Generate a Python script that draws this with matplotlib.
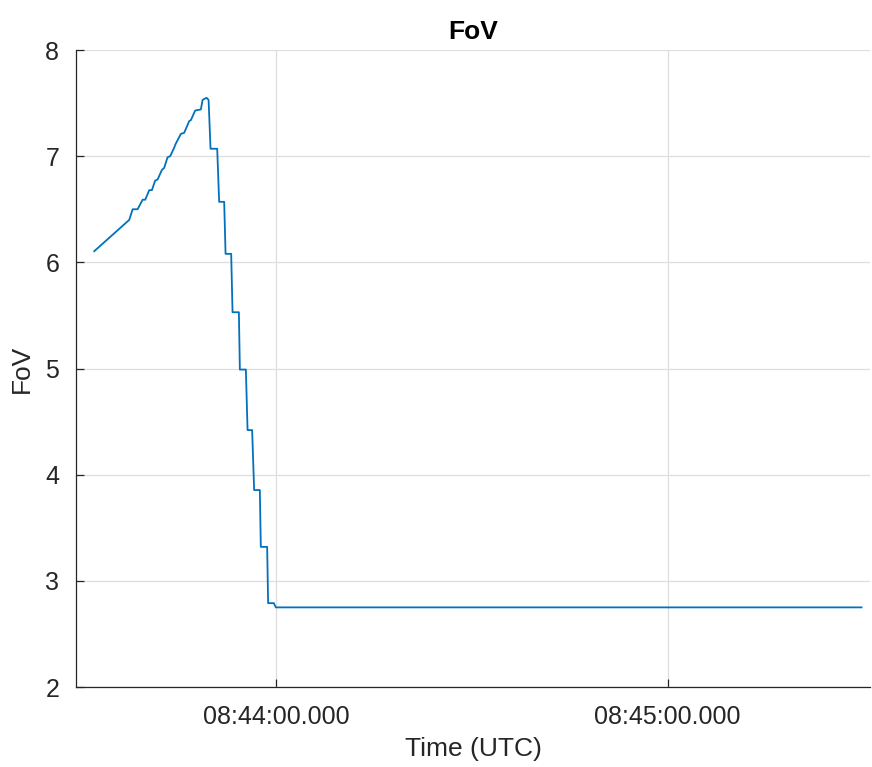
import numpy as np
import matplotlib
matplotlib.use("Agg")
import matplotlib.pyplot as plt
import matplotlib.dates as mdates

plt.rcParams['font.family'] = ['Liberation Sans', 'DejaVu Sans']

# Sample times in seconds relative to 08:44:00 UTC, and the field of view
t_sec = [-27.81, -22.45, -21.93, -21.17, -20.40, -20.00, -19.39, -18.98,
         -18.48, -18.11, -17.45, -17.10, -16.58, -16.18, -15.57, -15.31,
         -14.54, -14.04, -13.27, -13.01, -12.35, -11.48, -11.22, -10.61,
         -10.30, -10.00, -8.98, -8.68, -7.91, -7.70, -6.84, -6.63, -5.66,
         -5.51, -4.59, -4.33, -3.63, -3.32, -2.45, -2.30, -1.33, -1.18,
         -0.31, 0.00, 89.70]
fov = [6.105, 6.40, 6.50, 6.50, 6.59, 6.59, 6.68, 6.68,
       6.77, 6.78, 6.87, 6.89, 6.99, 7.00, 7.08, 7.12,
       7.21, 7.22, 7.33, 7.34, 7.43, 7.44, 7.53, 7.55,
       7.53, 7.07, 7.07, 6.57, 6.57, 6.08, 6.08, 5.53, 5.53,
       4.99, 4.99, 4.42, 4.42, 3.855, 3.855, 3.32, 3.32, 2.79,
       2.79, 2.75, 2.75]

ref_time = np.datetime64('2024-01-01T08:44:00.000')
x_limits_sec = [-30.6, 91.0]
y_limits = [2, 8]
x_tick_sec = [0, 60]
y_ticks = [2, 3, 4, 5, 6, 7, 8]

def to_dt(secs):
    return ref_time + (np.asarray(secs) * 1000).astype('timedelta64[ms]')

times = to_dt(t_sec)

fig = plt.figure(figsize=(8.72, 7.67), dpi=100)
ax = fig.add_axes([0.0872, 0.1043, 0.9105, 0.8305])

ax.plot(times, fov, color='#0072BD', linewidth=1.3)

ax.set_xlim(to_dt(x_limits_sec)[0], to_dt(x_limits_sec)[1])
ax.set_ylim(*y_limits)
ax.set_xticks(to_dt(x_tick_sec))
ax.set_yticks(y_ticks)
ax.xaxis.set_major_formatter(mdates.DateFormatter('%H:%M:%S.000'))

ax.grid(True, color='#dedede', linewidth=0.9)
ax.set_axisbelow(True)
for side in ('top', 'right'):
    ax.spines[side].set_visible(False)
for side in ('left', 'bottom'):
    ax.spines[side].set_color('#262626')
    ax.spines[side].set_linewidth(0.9)

ax.tick_params(direction='in', length=6, width=0.9, colors='#262626',
               labelsize=18)
ax.tick_params(axis='x', pad=13)
ax.tick_params(axis='y', pad=12)

ax.set_title('FoV', fontsize=19, fontweight='bold', color='black', pad=8)
ax.set_xlabel('Time (UTC)', fontsize=19, color='#262626', labelpad=6)
ax.set_ylabel('FoV', fontsize=19, color='#262626', labelpad=8)

fig.savefig('out.png', dpi=100)
